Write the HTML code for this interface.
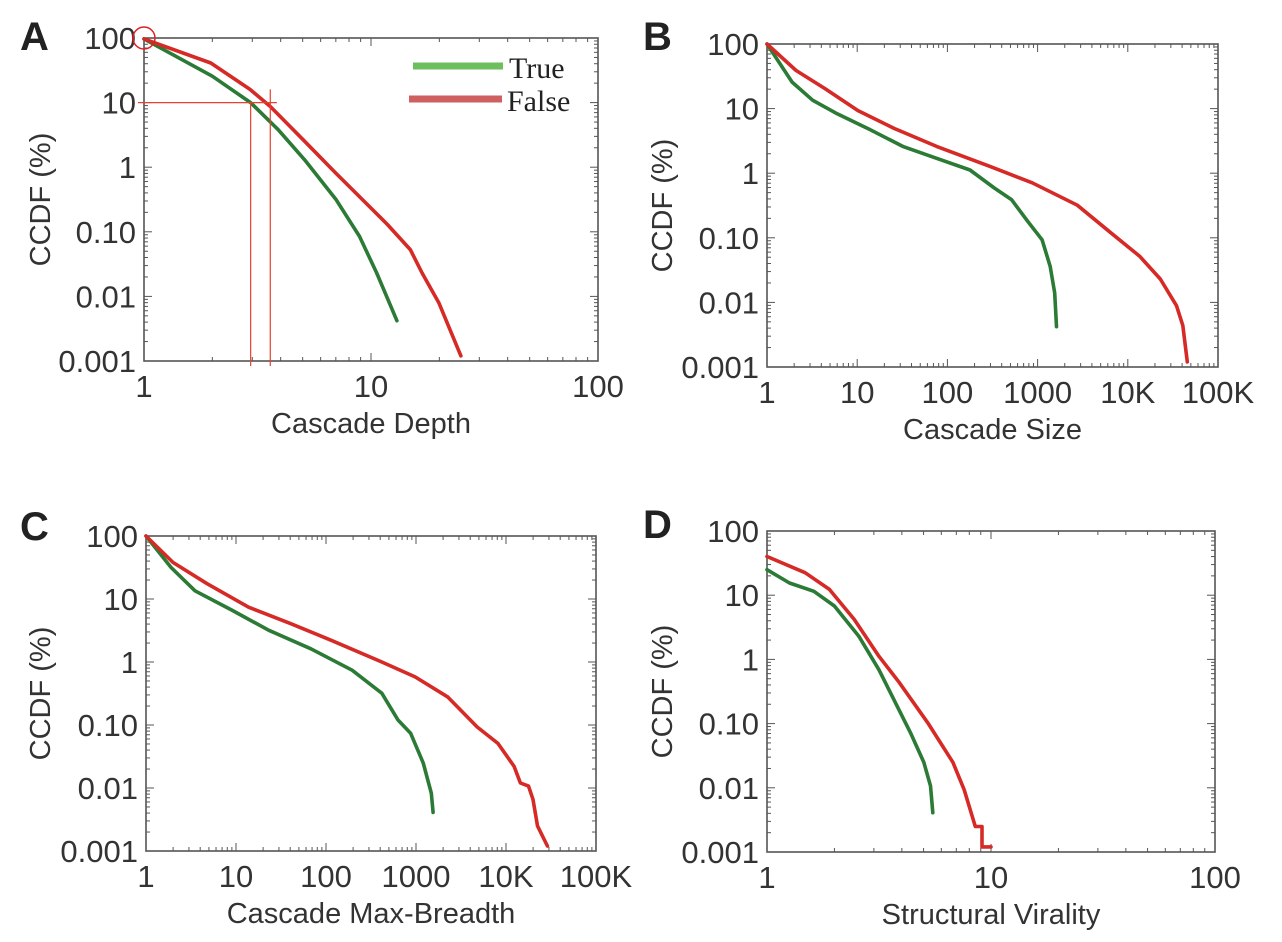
<!DOCTYPE html>
<html><head><meta charset="utf-8"><style>
html,body{margin:0;padding:0;background:#fff;}
svg{display:block;}
text{font-family:"Liberation Sans Narrow","Liberation Sans",sans-serif;fill:#333;}
</style></head><body>
<svg id="fig" width="1282" height="942" viewBox="0 0 1282 942"></svg>
<script>
// ---- data ----
const yTickVals=[100,10,1,0.1,0.01,0.001];
const yTickLabels=["100","10","1","0.10","0.01","0.001"];
const xTickValsA=[1,10,100];
const xTickLabelsA=["1","10","100"];
const xTickValsB=[1,10,100,1000,10000,100000];
const xTickLabelsB=["1","10","100","1000","10K","100K"];

const aTrueX=[1,2,2.95,3.9,5.1,7,8.9,10.6,13];
const aTrueY=[97,25.6,10,3.8,1.3,0.32,0.085,0.023,0.0042];
const aFalseX=[1,1.97,2.93,3.6,5,7,9.8,11.8,14.9,16.8,19.9,24.9];
const aFalseY=[97,41,16,8.7,2.7,0.81,0.25,0.13,0.053,0.023,0.008,0.0012];

const bTrueX=[1,1.9,3.2,6,14,32,76,178,331,513,776,1122,1380,1549,1622];
const bTrueY=[100,25.7,13.5,8.3,4.7,2.6,1.7,1.12,0.59,0.39,0.18,0.093,0.036,0.014,0.0042];
const bFalseX=[1,2.1,4.4,10.2,26,76,302,871,2754,6457,13490,22900,34670,40740,45700];
const bFalseY=[100,38.9,20.4,9.3,4.9,2.6,1.26,0.71,0.32,0.12,0.052,0.023,0.0089,0.0044,0.0012];

const cTrueX=[1,1.9,3.5,9.1,23,68,195,417,631,871,1202,1479,1549];
const cTrueY=[100,31.6,13.5,6.6,3.2,1.62,0.74,0.32,0.12,0.074,0.025,0.0083,0.0041];
const cFalseX=[1,2,4.8,13.8,40,115,417,977,2239,4786,8128,12300,14450,17780,19950,22390,28840];
const cFalseY=[100,38,17.4,7.4,4.1,2.2,1,0.58,0.28,0.093,0.051,0.022,0.012,0.0107,0.0066,0.0025,0.0012];

const dTrueX=[1,1.26,1.62,2,2.57,3.16,3.8,4.37,5.01,5.37,5.5];
const dTrueY=[25,15.5,11.5,6.8,2.3,0.69,0.19,0.072,0.025,0.0107,0.0041];
const dFalseX=[1,1.48,1.9,2.45,3.16,3.89,5.25,6.76,7.59,8.51,9.12,9.12,10];
const dFalseY=[40,22.4,12.3,4.2,1.12,0.44,0.10,0.025,0.0093,0.0025,0.0025,0.0012,0.0012];

const GREEN="#2b7a35", RED="#d52a26";
const NS="http://www.w3.org/2000/svg";
const svg=document.getElementById('fig');
function mk(tag,attrs,parent){const e=document.createElementNS(NS,tag);for(const k in attrs)e.setAttribute(k,attrs[k]);(parent||svg).appendChild(e);return e;}

function panel(p){
  const g=mk('g',{});
  
  
  const L=p.x0,R=p.x1,T=p.y0,B=p.y1;
  const lxMin=Math.log10(p.xmin),lxMax=Math.log10(p.xmax);
  const sx=v=>L+(Math.log10(v)-lxMin)/(lxMax-lxMin)*(R-L);
  const sy=v=>T+(2-Math.log10(v))/5*(B-T);
  // ticks
  const tk=mk('g',{stroke:'#555','stroke-width':1},g);
  
  
  for(let d=lxMin;d<lxMax;d++){
    for(let m=1;m<=9;m++){
      const v=Math.pow(10,d)*m, x=sx(v), len=m===1?8:4;
      if(m===1&&d===lxMin)continue;
      mk('line',{x1:x,x2:x,y1:B,y2:B-len},tk);
      mk('line',{x1:x,x2:x,y1:T,y2:T+len},tk);
    }
  }
  for(let d=-3;d<2;d++){
    for(let m=1;m<=9;m++){
      const v=Math.pow(10,d)*m, y=sy(v), len=m===1?8:4;
      if(m===1&&d===-3)continue;
      mk('line',{x1:L,x2:L+len,y1:y,y2:y},tk);
      mk('line',{x1:R,x2:R-len,y1:y,y2:y},tk);
    }
  }
  const fr=mk('rect',{x:L,y:T,width:R-L,height:B-T,fill:'none',stroke:'#555','stroke-width':1.6},g);
  
  
  // tick labels
  p.xv.forEach((v,i)=>{
    const t=mk('text',{x:sx(v),y:B+36,'text-anchor':'middle','font-size':31},g);
    
    
    t.textContent=p.xl[i];
  });
  yTickVals.forEach((v,i)=>{
    const t=mk('text',{x:L-8,y:sy(v)+11,'text-anchor':'end','font-size':31},g);
    
    
    t.textContent=yTickLabels[i];
  });
  const xt=mk('text',{x:(L+R)/2,y:B+72,'text-anchor':'middle','font-size':29},g);
  
  
  xt.textContent=p.xtitle;
  const yc=(T+B)/2, yx=p.ylx;
  const yt=mk('text',{x:yx,y:yc,'text-anchor':'middle','font-size':29,transform:`rotate(-90 ${yx} ${yc})`},g);
  
  
  yt.textContent='CCDF (%)';
  const lt=mk('text',{x:p.lx,y:p.ly,'font-size':40,'font-weight':'bold'},g);
  
  
  lt.style.fill='#222';
  lt.textContent=p.id;
  // series
  [[p.tx,p.ty,GREEN,'true'],[p.fx,p.fy,RED,'false']].forEach(s=>{
    const pts=s[0].map((x,i)=>sx(x).toFixed(1)+','+sy(s[1][i]).toFixed(1)).join(' ');
    const pl=mk('polyline',{points:pts,fill:'none',stroke:s[2],'stroke-width':3.6,'stroke-linejoin':'round','stroke-linecap':'round'},g);
    
    
  });
  return {sx,sy,g};
}

const A=panel({id:'A',x0:144,x1:598,y0:38,y1:361,xmin:1,xmax:100,xv:xTickValsA,xl:xTickLabelsA,xtitle:'Cascade Depth',ylx:50,lx:20,ly:50,tx:aTrueX,ty:aTrueY,fx:aFalseX,fy:aFalseY});
panel({id:'B',x0:767,x1:1218,y0:44,y1:367,xmin:1,xmax:100000,xv:xTickValsB,xl:xTickLabelsB,xtitle:'Cascade Size',ylx:672,lx:643,ly:50,tx:bTrueX,ty:bTrueY,fx:bFalseX,fy:bFalseY});
panel({id:'C',x0:146,x1:596,y0:536,y1:851,xmin:1,xmax:100000,xv:xTickValsB,xl:xTickLabelsB,xtitle:'Cascade Max-Breadth',ylx:50,lx:20,ly:540,tx:cTrueX,ty:cTrueY,fx:cFalseX,fy:cFalseY});
panel({id:'D',x0:767,x1:1215,y0:531,y1:852,xmin:1,xmax:100,xv:xTickValsA,xl:xTickLabelsA,xtitle:'Structural Virality',ylx:672,lx:643,ly:538,tx:dTrueX,ty:dTrueY,fx:dFalseX,fy:dFalseY});

// annotations in panel A
const ann=mk('g',{stroke:'#e8402e','stroke-width':1.2,fill:'none'});


mk('line',{x1:A.sx(1)-6,x2:A.sx(3.85),y1:A.sy(10),y2:A.sy(10)},ann);
mk('line',{x1:A.sx(2.95),x2:A.sx(2.95),y1:A.sy(10),y2:366},ann);
mk('line',{x1:A.sx(3.6),x2:A.sx(3.6),y1:A.sy(16),y2:366},ann);
const circ=mk('circle',{cx:A.sx(1),cy:A.sy(100),r:11,stroke:'#e02020','stroke-width':1.5,fill:'none'});



// legend
const lg=mk('g',{});


const l1=mk('line',{x1:413,x2:503,y1:66,y2:66,stroke:'#6dbf5e','stroke-width':7},lg);


const l2=mk('line',{x1:409,x2:502,y1:99,y2:99,stroke:'#cf6060','stroke-width':7},lg);


const t1=mk('text',{x:509,y:78,'font-size':30},lg);


t1.style.fontFamily='"Liberation Serif",serif';t1.style.fill='#222';
t1.textContent='True';
const t2=mk('text',{x:507,y:111,'font-size':30},lg);


t2.style.fontFamily='"Liberation Serif",serif';t2.style.fill='#222';
t2.textContent='False';
</script>
</body></html>
